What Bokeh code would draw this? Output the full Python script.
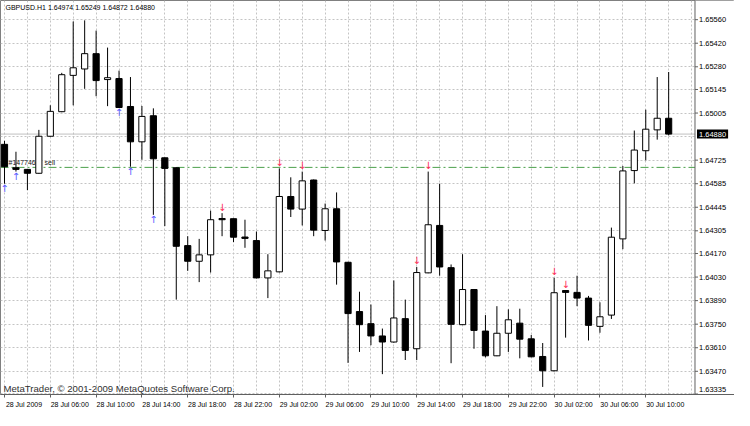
from bokeh.plotting import figure
from bokeh.models import FixedTicker, Span, ColumnDataSource, Range1d, CustomJSTickFormatter
from bokeh.core.properties import value
from bokeh.embed import file_html
from bokeh.resources import INLINE

# ---------------- data ----------------
symbol = "GBPUSD.H1"
opens = [1.64819, 1.64680, 1.64670, 1.64647, 1.64867, 1.65013, 1.65229, 1.65267, 1.65358, 1.65204,
         1.65210, 1.65044, 1.64834, 1.64989, 1.64739, 1.64680, 1.64217, 1.64124, 1.64162, 1.64378,
         1.64377, 1.64268, 1.64247, 1.64025, 1.64061, 1.64509, 1.64434, 1.64607, 1.64307, 1.64436,
         1.64118, 1.63825, 1.63753, 1.63680, 1.63644, 1.63783, 1.63604, 1.64055, 1.64337, 1.64086,
         1.63747, 1.63956, 1.63709, 1.63562, 1.63696, 1.63756, 1.63663, 1.63558, 1.63473, 1.63950,
         1.63939, 1.63905, 1.63737, 1.63804, 1.64257, 1.64663, 1.64781, 1.64905, 1.64974]
highs = [1.64840, 1.64775, 1.64672, 1.64905, 1.65051, 1.65244, 1.65549, 1.65556, 1.65495, 1.65394,
         1.65257, 1.65219, 1.65047, 1.65033, 1.64740, 1.64682, 1.64273, 1.64257, 1.64425, 1.64410,
         1.64378, 1.64371, 1.64301, 1.64166, 1.64676, 1.64623, 1.64657, 1.64610, 1.64467, 1.64533,
         1.64120, 1.63943, 1.63867, 1.63724, 1.64010, 1.63896, 1.64090, 1.64657, 1.64585, 1.64105,
         1.64166, 1.63958, 1.63804, 1.63857, 1.63838, 1.63842, 1.63686, 1.63638, 1.64025, 1.63952,
         1.64038, 1.63918, 1.63880, 1.64324, 1.64690, 1.64901, 1.65025, 1.65219, 1.65249]
lows = [1.64585, 1.64657, 1.64547, 1.64645, 1.64865, 1.65010, 1.65051, 1.65149, 1.65105, 1.65046,
        1.65036, 1.64686, 1.64727, 1.64400, 1.64333, 1.63896, 1.64067, 1.64000, 1.64057, 1.64273,
        1.64238, 1.64204, 1.64022, 1.63905, 1.64058, 1.64387, 1.64337, 1.64273, 1.64247, 1.63985,
        1.63520, 1.63585, 1.63625, 1.63453, 1.63640, 1.63537, 1.63537, 1.64053, 1.64038, 1.63518,
        1.63745, 1.63604, 1.63553, 1.63560, 1.63585, 1.63547, 1.63554, 1.63377, 1.63470, 1.63670,
        1.63857, 1.63653, 1.63699, 1.63781, 1.64196, 1.64587, 1.64724, 1.64847, 1.64872]
closes = [1.64686, 1.64670, 1.64647, 1.64867, 1.65015, 1.65233, 1.65274, 1.65358, 1.65198, 1.65215,
          1.65038, 1.64834, 1.64985, 1.64733, 1.64676, 1.64213, 1.64124, 1.64162, 1.64371, 1.64371,
          1.64267, 1.64260, 1.64025, 1.64067, 1.64509, 1.64434, 1.64602, 1.64309, 1.64436, 1.64120,
          1.63813, 1.63747, 1.63680, 1.63644, 1.63787, 1.63594, 1.64057, 1.64341, 1.64090, 1.63749,
          1.63956, 1.63713, 1.63562, 1.63696, 1.63776, 1.63661, 1.63556, 1.63473, 1.63937, 1.63939,
          1.63905, 1.63743, 1.63794, 1.64267, 1.64661, 1.64785, 1.64909, 1.64974, 1.64880]

time_labels = ["28 Jul 2009", "28 Jul 06:00", "28 Jul 10:00", "28 Jul 14:00", "28 Jul 18:00",
               "28 Jul 22:00", "29 Jul 02:00", "29 Jul 06:00", "29 Jul 10:00", "29 Jul 14:00",
               "29 Jul 18:00", "29 Jul 22:00", "30 Jul 02:00", "30 Jul 06:00", "30 Jul 10:00"]
bars_per_label = 4

price_grid = [1.65560, 1.65420, 1.65280, 1.65145, 1.65005, 1.64865, 1.64725, 1.64585, 1.64445,
              1.64305, 1.64170, 1.64030, 1.63890, 1.63750, 1.63610, 1.63470, 1.63335]
hidden_price_label = 1.64865

buy_signals = [0, 1, 10, 11, 13]
sell_signals = [19, 24, 26, 36, 37, 48, 49]

order_ticket = "#147746"
order_type = "sell"
order_price = 1.64682

copyright_text = "MetaTrader, \u00a9 2001-2009 MetaQuotes Software Corp."

# ---------------- derived ----------------
n = len(opens)
idx = list(range(n))
tops = [max(o, c) for o, c in zip(opens, closes)]
bottoms = [min(o, c) for o, c in zip(opens, closes)]
fills = ["white" if c > o else "black" for o, c in zip(opens, closes)]
src = ColumnDataSource(dict(x=idx, h=highs, l=lows, top=tops, bottom=bottoms, fill=fills))

X_START, X_AXIS, X_END = -0.35, 60.3, 63.75
Y_START, Y_END = 1.63332, 1.65674
FONT = "Liberation Sans"
AXIS_COLOR = "#606060"

p = figure(width=734, height=410, output_backend="svg", toolbar_location=None,
           x_range=Range1d(X_START, X_END), y_range=Range1d(Y_START, Y_END),
           y_axis_location=None, min_border_left=0, min_border_top=0,
           min_border_right=0, min_border_bottom=0)
p.background_fill_color = "white"
p.border_fill_color = "white"
p.outline_line_color = "#808080"

# grids
p.xgrid.ticker = FixedTicker(ticks=list(range(0, 61, 2)))
p.ygrid.ticker = FixedTicker(ticks=price_grid)
for g in (p.xgrid, p.ygrid):
    g.grid_line_color = "#c4c4c4"
    g.grid_line_dash = "2 2"
    g.grid_line_width = 1

# bottom time axis (labels left-aligned at their tick)
LABEL_SHIFT = 1.7
xax = p.xaxis[0]
xax.ticker = FixedTicker(ticks=[k * bars_per_label + LABEL_SHIFT for k in range(len(time_labels))],
                         minor_ticks=[k * bars_per_label for k in range(len(time_labels))])
xax.formatter = CustomJSTickFormatter(
    args=dict(labels=time_labels, shift=LABEL_SHIFT, step=bars_per_label),
    code="const i = Math.round((tick - shift) / step); return (i >= 0 && i < labels.length) ? labels[i] : '';")
xax.major_label_text_font = FONT
xax.major_label_text_font_size = "7px"
xax.major_label_text_color = "black"
xax.major_tick_out = 0
xax.major_tick_in = 0
xax.minor_tick_out = 3
xax.minor_tick_in = 0
xax.minor_tick_line_color = AXIS_COLOR
xax.major_label_standoff = 3
xax.axis_line_color = AXIS_COLOR

# current price line & order line
p.add_layout(Span(location=closes[-1], dimension="width", line_color="#c0c0c0",
                  line_width=1, level="underlay"))
p.add_layout(Span(location=order_price, dimension="width", line_color="#4aa04a",
                  line_width=1, line_dash="8 3 2 3", level="underlay"))

# price-scale panel on the right (white background, axis line, ticks, labels)
p.quad(left=[X_AXIS], right=[X_END], bottom=[Y_START], top=[Y_END],
       fill_color="white", line_color=None)
p.segment(x0=[X_AXIS], y0=[Y_START], x1=[X_AXIS], y1=[Y_END], line_color=AXIS_COLOR, line_width=1)
shown = [v for v in price_grid if v != hidden_price_label]
p.ray(x=[X_AXIS] * len(shown), y=shown, length=3, length_units="screen", angle=0,
      line_color=AXIS_COLOR, line_width=1)
label_dy = [0] * (len(shown) - 1) + [-4]   # keep the lowest label inside the panel
p.text(x=[X_AXIS] * len(shown), y=shown, text=[f"{v:.5f}" for v in shown], x_offset=4,
       y_offset=label_dy, text_color="black", text_font=value(FONT), text_font_size="7.5px",
       text_align="left", text_baseline="middle")
p.text(x=[X_AXIS], y=[closes[-1]], text=[f"{closes[-1]:.5f}"], x_offset=2,
       text_color="white", text_font=value(FONT), text_font_size="7.5px",
       text_align="left", text_baseline="middle", background_fill_color="black", padding=2)

# candles
p.segment(x0="x", y0="h", x1="x", y1="l", source=src, line_color="black", line_width=1)
p.vbar(x="x", top="top", bottom="bottom", width=0.54, fill_color="fill",
       line_color="black", line_width=1, source=src)

# signal arrows
p.text(x=buy_signals, y=[lows[i] for i in buy_signals], text=["\u2191"] * len(buy_signals),
       text_color="#5a5aff", text_font=value("DejaVu Sans"), text_font_size="10px",
       text_align="center", text_baseline="middle", y_offset=5)
p.text(x=sell_signals, y=[highs[i] for i in sell_signals], text=["\u2193"] * len(sell_signals),
       text_color="#ff2a55", text_font=value("DejaVu Sans"), text_font_size="10px",
       text_align="center", text_baseline="middle", y_offset=-6)

# order label
p.text(x=[X_START, X_START], y=[order_price, order_price], text=[order_ticket, order_type],
       x_offset=[8, 44], y_offset=-1, text_color="#202020", text_font=value(FONT),
       text_font_size="7px", text_align="left", text_baseline="bottom")

# header and copyright
p.text(x=[X_START], y=[Y_END],
       text=[f"{symbol}  {opens[-1]:.5f} {highs[-1]:.5f} {lows[-1]:.5f} {closes[-1]:.5f}"],
       x_offset=5, y_offset=3, text_color="black", text_font=value(FONT),
       text_font_size="7px", text_align="left", text_baseline="top")
p.text(x=[X_START], y=[Y_START], text=[copyright_text], x_offset=3, y_offset=-1,
       text_color="#303030", text_font=value(FONT), text_font_size="9.6px",
       text_align="left", text_baseline="bottom")

open("out.html", "w").write(file_html(p, INLINE))
